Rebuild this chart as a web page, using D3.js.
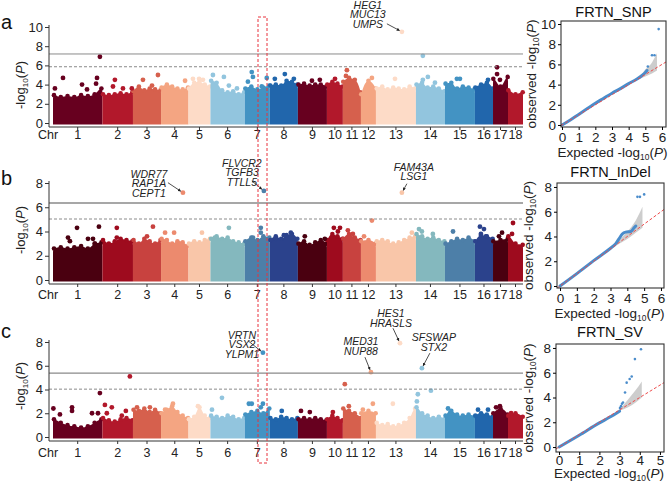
<!DOCTYPE html>
<html>
<head>
<meta charset="utf-8">
<script src="https://cdn.jsdelivr.net/npm/d3@7"></script>
<style>
  body { margin: 0; background: #fff; }
  svg { font-family: Arial, "Liberation Sans", sans-serif; }
</style>
</head>
<body>
<div class="graph_container"></div>
<script>
const w = 669;
const h = 483;

// chromosomes and approximate lengths (Mb)
const chroms = ["1","2","3","4","5","6","7","8","9","10","11","12","13","14","15","16","17","18"];
const chrLen = [257,159,146,143,114,179,130,146,151,83,94,78,208,151,156,94,78,78];

// upper edge of the dense point cloud, per chromosome (-log10 P)
const snpTop = [
  [2.9,2.7,2.8,2.7,2.9,2.8,3.0,3.6],[3.0,2.9,3.0,3.1,3.0,3.2],[3.3,3.8,3.4,3.6,3.5,3.4],
  [3.7,4.0,3.8,3.6,3.5,3.7],[3.6,4.2,4.3,4.0,3.8],[4.4,4.2,3.4,3.2,3.3,3.0,3.2],
  [3.6,3.8,3.5,3.7,3.9],[3.9,4.0,3.9,4.4,4.3,4.0],[4.0,4.1,3.9,4.0,4.0,3.8],
  [4.0,4.3,4.1,3.8],[4.3,4.7,4.5,3.2],[3.0,4.4,3.6],[3.6,3.8,3.5,3.7,3.6,3.5,3.8,3.6],
  [4.0,4.2,3.7,3.8,3.6,3.3],[4.1,4.2,3.6,3.8,3.7,3.5],[3.7,4.0,4.2,3.6],[4.6,3.8,4.8],[3.4,3.0,3.2]
];
const indelTop = [
  [2.6,2.7,2.6,2.7,2.8,2.6,3.0,3.1],[3.3,3.0,3.2,3.4,3.3,3.2],[3.3,3.0,3.4,3.2,3.0,3.3],
  [3.4,3.3,3.0,3.2,3.1,2.8],[3.0,3.2,3.1,3.3,3.4],[3.4,3.6,3.4,3.5,3.2,3.1,3.0],
  [3.2,3.5,3.3,3.6,3.5],[3.3,3.6,3.4,3.7,3.8,3.4],[3.0,3.2,2.9,3.1,3.3,3.0],
  [3.3,3.8,3.6,3.4],[3.4,3.8,3.5,3.3],[3.2,3.3,3.0],[3.2,3.3,3.2,3.0,3.1,3.3,3.5,3.6],
  [3.8,3.6,3.4,3.5,3.3,3.2],[3.0,3.2,3.4,3.3,3.5,3.2],[3.2,3.7,3.6,3.4],[3.2,3.3,3.4],[3.6,3.0,2.9]
];
const svTop = [
  [1.5,1.2,1.0,0.9,0.8,0.9,1.2,1.5],[1.6,1.4,1.3,1.5,1.6,1.4],[2.3,2.2,2.4,2.1,2.3,2.0],
  [2.0,2.3,2.6,2.1,1.8,1.6],[1.5,1.7,2.5,1.8,1.6],[1.8,1.7,1.6,1.8,1.7,1.5,1.6],
  [1.9,2.1,2.2,2.0,2.4],[1.6,1.5,1.7,1.6,1.5,1.6],[1.5,1.6,1.5,1.6,1.5,1.4],
  [1.5,1.8,1.6,1.4],[2.4,2.2,2.0,1.6],[2.0,2.2,2.0],[1.2,1.0,1.1,0.9,1.0,1.2,1.6,2.4],
  [2.5,2.0,1.8,1.6,1.7,1.5],[1.8,2.2,1.9,1.8,1.9,1.7],[1.8,2.0,1.9,1.7],[2.0,2.4,1.9],[1.8,2.0,1.7]
];

// isolated points [chromosome, position Mb, -log10 P]
const snpPeaks = [
  [1,10,3.6],[1,52,4.7],[1,151,4.0],[1,177,3.5],[1,229,4.7],[1,224,4.1],[1,244,6.9],
  [2,65,4.5],[2,55,3.8],[2,107,3.6],[2,153,3.6],[3,52,4.5],[3,130,5.0],[3,99,3.9],
  [4,125,4.4],[5,23,4.6],[5,55,4.6],[5,75,4.5],[6,13,5.0],[6,70,4.8],[6,138,3.6],[6,96,3.9],
  [7,36,5.3],[7,42,4.8],[7,16,4.3],[7,114,4.7],[7,88,3.8],[8,78,5.1],[8,26,4.6],[8,125,4.6],
  [9,73,4.4],[9,114,4.5],[10,42,4.6],[11,21,5.5],[11,16,4.9],[12,57,4.7],[13,99,4.6],
  [14,36,7.0],[14,36,4.5],[14,62,4.8],[14,99,4.2],[15,62,4.6],[15,78,4.6],[16,68,4.5],
  [17,21,5.8],[17,21,5.1],[17,36,4.5]
];
const indelPeaks = [
  [1,125,4.3],[1,78,3.5],[1,88,3.2],[1,182,3.4],[1,208,3.4],[1,239,4.4],[1,218,3.0],
  [2,75,4.3],[2,75,3.5],[3,104,4.4],[3,73,3.6],[4,21,3.9],[4,68,3.9],[4,99,3.0],[5,70,3.9],
  [6,23,3.5],[6,96,4.3],[7,83,4.3],[7,83,3.9],[7,42,3.5],[8,31,3.4],[8,73,3.7],[8,109,3.9],
  [9,36,3.6],[9,140,3.4],[10,36,4.3],[10,68,4.3],[10,57,4.0],[11,26,4.1],[11,52,3.8],
  [12,16,3.6],[12,57,4.9],[13,187,3.9],[14,16,4.2],[14,31,4.0],[14,88,3.8],[15,42,4.0],
  [16,26,4.4],[16,47,4.2],[16,31,3.8],[16,57,3.6],[17,47,3.9],[17,31,3.6],[18,26,4.7],[18,21,3.8]
];
const svPeaks = [
  [1,2,2.4],[1,99,2.5],[1,36,1.9],[1,99,2.2],[1,203,2.0],[1,234,2.0],[1,244,3.7],
  [2,13,2.7],[2,49,2.5],[2,23,2.0],[2,122,2.2],[2,143,5.1],[2,101,1.8],[3,21,2.5],[3,88,2.5],
  [4,21,2.3],[4,62,2.8],[5,49,2.6],[6,8,2.3],[6,60,3.3],[7,21,2.8],[7,36,2.8],[7,94,2.8],
  [7,83,2.5],[8,62,2.2],[9,16,2.2],[9,62,2.1],[10,31,2.1],[11,10,4.45],[11,31,2.6],
  [12,10,2.3],[12,62,2.8],[13,88,2.8],[14,10,3.6],[14,78,3.9],[14,5,3.0],[15,16,2.4],
  [15,26,2.0],[16,16,2.3],[16,68,2.3],[17,16,2.5],[17,36,2.6],[18,16,2.0]
];

// labelled hits and their genes
const snpHits = [[13,135,9.5]];
const snpGenes = [["HEG1","MUC13","UMPS"]];
const indelHits = [[4,114,7.2],[7,99,7.35],[13,135,7.2]];
const indelGenes = [["WDR77","RAP1A","CEPT1"],["FLVCR2","TGFB3","TTLL5"],["FAM43A","LSG1"]];
const svHits = [[7,94,7.1],[13,125,7.9],[12,52,5.46],[14,31,5.8]];
const svGenes = [["VRTN","VSX2","YLPM1"],["HES1","HRASLS"],["MED31","NUP88"],["SFSWAP","STX2"]];

// significance thresholds [solid, dashed]
const snpLines = [7.19, 5.86];
const indelLines = [6.35, 5.03];
const svLines = [5.38, 4.03];

// QQ plots: [expected, observed]
const snpQQ = [[0,0],[0.5,0.5],[1,1.05],[1.5,1.6],[2,2.15],[2.5,2.65],[3,3.15],[3.5,3.6],[4,4.1],[4.5,4.55],[4.8,4.9],[5,5.2],[5.1,5.4]];
const snpQQOut = [[5.15,5.8],[5.4,6.9],[5.55,6.9],[5.8,9.5]];
const snpBand = [[4.55,4.5,4.6],[5,4.8,5.5],[5.4,5.1,6.2],[5.7,5.4,7.1]];
const indelQQ = [[0,0],[1,1],[2,2.05],[3,3.05],[3.3,3.4],[3.5,3.8],[3.7,4.2],[3.9,4.35],[4.2,4.4],[4.4,4.7],[4.5,4.85]];
const indelQQOut = [[4.6,7.2],[4.75,7.2],[5.0,7.4]];
const indelBand = [[3,3,3.1],[3.5,3.4,3.7],[4,3.8,4.4],[4.5,4.3,5.3],[4.9,4.7,6.4]];
const svQQ = [[0,0],[1,0.95],[2,1.95],[2.5,2.4],[3,2.9]];
const svQQOut = [[3.02,3.15],[3.07,3.3],[3.12,3.5],[3.17,3.6],[3.27,4.4],[3.35,5.2],[3.5,5.5],[3.6,5.7],[3.76,7.1],[4.06,7.9]];
const svBand = [[3,2.95,3.05],[3.4,3.2,3.8],[3.8,3.6,4.6],[4.1,4.0,5.3]];

const rdbu = ["#67001f","#b2182b","#d6604d","#f4a582","#fddbc7","#92c5de","#4393c3","#2166ac"];
const darkPal = ["#4a0010","#9e0b1e","#c8423f","#ec8a6e","#f9c6a9","#84b8be","#4d7fa8","#2b428c"];

const svg = d3.select(".graph_container").append("svg").attr("width", w).attr("height", h);

svg.append("defs").append("marker")
  .attr("id", "arr").attr("viewBox", "0 0 6 6").attr("refX", 5).attr("refY", 3)
  .attr("markerWidth", 4).attr("markerHeight", 4).attr("orient", "auto")
  .append("path").attr("d", "M0,0L6,3L0,6Z").attr("fill", "#222");

const x = d3.scaleLinear().domain([0, d3.sum(chrLen)]).range([53, 523]);
const chrStart = chrLen.map((d, i) => d3.sum(chrLen.slice(0, i)));
const pos = (c, p) => x(chrStart[c - 1] + p);

function logLabel(t, prefix, fs) {
  t.append("tspan").text(prefix + "-log");
  t.append("tspan").text("10").attr("font-size", fs * 0.62).attr("dy", fs * 0.2);
  t.append("tspan").text("(").attr("dy", -fs * 0.2);
  t.append("tspan").text("P").attr("font-style", "italic");
  t.append("tspan").text(")");
}

const panels = [
  {letter: "a", letterY: 29, top: snpTop, peaks: snpPeaks, hits: snpHits, genes: snpGenes, lines: snpLines,
   pal: rdbu, yMax: 10, y0: 123, y1: 27, axisTop: 25, axisY: 127, labY: 139, ylabY: 85, solidW: 1,
   offs: [[-34, -23, -15, -8]]},
  {letter: "b", letterY: 185, top: indelTop, peaks: indelPeaks, hits: indelHits, genes: indelGenes, lines: indelLines,
   pal: darkPal, yMax: 8, y0: 280, y1: 183, axisTop: 181, axisY: 284, labY: 299, ylabY: 230, solidW: 1.6,
   offs: [[-34, -15, -15, -10], [-22, -24, -12, -10], [12, -22, 5, -9]]},
  {letter: "c", letterY: 338, top: svTop, peaks: svPeaks, hits: svHits, genes: svGenes, lines: svLines,
   pal: rdbu, yMax: 8, y0: 437, y1: 342, axisTop: 340, axisY: 441, labY: 457, ylabY: 386, solidW: 1.2,
   offs: [[-21, -14, -15, -12], [-9, -26, -7, -15], [-10, -27, -6, -15], [12, -27, 8, -15]]}
];

panels.forEach(p => {
  const y = d3.scaleLinear().domain([0, p.yMax]).range([p.y0, p.y1]);
  const g = svg.append("g");

  // dense cloud
  p.top.forEach((tops, i) => {
    const col = p.pal[i % 8];
    const pts = tops.map((v, j) => [chrStart[i] + chrLen[i] * (0.02 + 0.96 * j / (tops.length - 1)), v]);
    const full = [[chrStart[i], tops[0] * 0.9]].concat(pts, [[chrStart[i] + chrLen[i], tops[tops.length - 1] * 0.9]]);
    g.append("path").datum(full)
      .attr("d", d3.area().x(d => x(d[0])).y0(p.y0 + 1.5).y1(d => y(d[1])).curve(d3.curveMonotoneX))
      .attr("fill", col);
    g.selectAll(null).data(pts).enter().append("circle")
      .attr("cx", d => x(d[0])).attr("cy", d => y(d[1])).attr("r", 2.3).attr("fill", col);
  });

  g.selectAll(null).data(p.peaks.concat(p.hits)).enter().append("circle")
    .attr("cx", d => pos(d[0], d[1])).attr("cy", d => y(d[2])).attr("r", 2.4)
    .attr("fill", d => p.pal[(d[0] - 1) % 8]);

  // thresholds
  g.append("line").attr("x1", 49).attr("x2", 523).attr("y1", y(p.lines[0])).attr("y2", y(p.lines[0]))
    .attr("stroke", "#8a8a8a").attr("stroke-width", p.solidW);
  g.append("line").attr("x1", 49).attr("x2", 523).attr("y1", y(p.lines[1])).attr("y2", y(p.lines[1]))
    .attr("stroke", "#8a8a8a").attr("stroke-width", 1).attr("stroke-dasharray", "3,2");

  // gene labels
  p.hits.forEach((d, k) => {
    const px = pos(d[0], d[1]), py = y(d[2]);
    const o = p.offs[k];
    p.genes[k].forEach((gn, j) => {
      g.append("text").attr("x", px + o[0]).attr("y", py + o[1] + j * 9.6)
        .attr("text-anchor", "middle").attr("font-size", 10.5).attr("font-style", "italic")
        .attr("fill", "#222").text(gn);
    });
    const ax = px + o[2], ay = py + o[3];
    const dx = px - ax, dy = py - ay, L = Math.sqrt(dx * dx + dy * dy);
    g.append("line").attr("x1", ax).attr("y1", ay)
      .attr("x2", px - dx / L * 2.8).attr("y2", py - dy / L * 2.8)
      .attr("stroke", "#222").attr("stroke-width", 0.8).attr("marker-end", "url(#arr)");
  });

  // axes
  const yAxis = d3.axisLeft(y).tickValues(d3.range(0, p.yMax + 1, 2)).tickSize(4).tickPadding(2);
  const ya = g.append("g").attr("transform", "translate(49,0)").call(yAxis);
  ya.select(".domain").remove();
  ya.selectAll("text").attr("font-size", 13).attr("fill", "#222");
  ya.selectAll("line").attr("stroke", "#333");
  g.append("line").attr("x1", 49).attr("x2", 49).attr("y1", p.axisTop).attr("y2", p.axisY).attr("stroke", "#333");
  g.append("line").attr("x1", 49).attr("x2", 523).attr("y1", p.axisY).attr("y2", p.axisY).attr("stroke", "#333");

  const centers = chrLen.map((d, i) => chrStart[i] + d / 2);
  g.selectAll(null).data(centers).enter().append("line")
    .attr("x1", d => x(d)).attr("x2", d => x(d)).attr("y1", p.axisY).attr("y2", p.axisY + 3).attr("stroke", "#333");
  g.selectAll(null).data(centers).enter().append("text")
    .attr("x", d => x(d)).attr("y", p.labY).attr("text-anchor", "middle").attr("font-size", 12.5)
    .attr("fill", "#222").text((d, i) => chroms[i]);
  g.append("text").attr("x", 48).attr("y", p.labY).attr("text-anchor", "middle").attr("font-size", 12.5)
    .attr("fill", "#222").text("Chr");

  const yl = g.append("text").attr("transform", `translate(25,${p.ylabY}) rotate(-90)`)
    .attr("text-anchor", "middle").attr("font-size", 13).attr("fill", "#222");
  logLabel(yl, "", 13);

  svg.append("text").attr("x", 1).attr("y", p.letterY).attr("font-size", 20).attr("fill", "#111").text(p.letter);
});

// highlight box around chr7 region
svg.append("rect").attr("x", 258).attr("y", 17).attr("width", 9).attr("height", 446)
  .attr("fill", "none").attr("stroke", "#e8323c").attr("stroke-width", 1).attr("stroke-dasharray", "3,2");

// QQ plots
const qqs = [
  {title: "FRTN_SNP", line: snpQQ, out: snpQQOut, band: snpBand, bx: [561, 666], by: [127, 21],
   xd: [-0.06, 6.24], yd: [-0.2, 10.3], xt: d3.range(0, 7), yt: [0, 2, 4, 6, 8, 10], titleY: 17, tickY: 142, expY: 157, ylx: 536},
  {title: "FRTN_InDel", line: indelQQ, out: indelQQOut, band: indelBand, bx: [557, 664], by: [288, 183],
   xd: [-0.18, 6.18], yd: [-0.16, 8.32], xt: d3.range(0, 7), yt: [0, 2, 4, 6, 8], titleY: 177, tickY: 303, expY: 318, ylx: 533},
  {title: "FRTN_SV", line: svQQ, out: svQQOut, band: svBand, bx: [556, 664], by: [452, 344],
   xd: [-0.15, 5.2], yd: [-0.4, 8.32], xt: d3.range(0, 6), yt: [0, 2, 4, 6, 8], titleY: 337, tickY: 465, expY: 478, ylx: 533}
];

qqs.forEach((q, qi) => {
  const qx = d3.scaleLinear().domain(q.xd).range(q.bx);
  const qy = d3.scaleLinear().domain(q.yd).range(q.by);
  const g = svg.append("g");
  const cid = "qclip" + qi;
  svg.select("defs").append("clipPath").attr("id", cid).append("rect")
    .attr("x", q.bx[0]).attr("y", q.by[1]).attr("width", q.bx[1] - q.bx[0]).attr("height", q.by[0] - q.by[1]);
  const inner = g.append("g").attr("clip-path", `url(#${cid})`);

  inner.append("path").datum(q.band)
    .attr("d", d3.area().x(d => qx(d[0])).y0(d => qy(d[1])).y1(d => qy(d[2])).curve(d3.curveMonotoneX))
    .attr("fill", "#c4c4c4").attr("opacity", 0.85);
  inner.append("path").datum(q.line)
    .attr("d", d3.line().x(d => qx(d[0])).y(d => qy(d[1])).curve(d3.curveMonotoneX))
    .attr("fill", "none").attr("stroke", "#4a8ccb").attr("stroke-width", 3).attr("stroke-linecap", "round");
  inner.selectAll(null).data(q.out).enter().append("circle")
    .attr("cx", d => qx(d[0])).attr("cy", d => qy(d[1])).attr("r", 1.3).attr("fill", "#4a8ccb");
  inner.append("line").attr("x1", qx(q.xd[0])).attr("y1", qy(q.xd[0]))
    .attr("x2", qx(q.xd[1])).attr("y2", qy(q.xd[1]))
    .attr("stroke", "#ee4b4b").attr("stroke-width", 1).attr("stroke-dasharray", "3,2");

  g.append("rect").attr("x", q.bx[0]).attr("y", q.by[1]).attr("width", q.bx[1] - q.bx[0]).attr("height", q.by[0] - q.by[1])
    .attr("fill", "none").attr("stroke", "#333").attr("stroke-width", 1.1);

  const xa = g.append("g").attr("transform", `translate(0,${q.by[0]})`)
    .call(d3.axisBottom(qx).tickValues(q.xt).tickFormat(d3.format("d")).tickSize(3).tickPadding(1));
  xa.select(".domain").remove();
  xa.selectAll("text").attr("font-size", 13.5).attr("fill", "#222").attr("dy", null).attr("y", q.tickY - q.by[0]);
  const ya = g.append("g").attr("transform", `translate(${q.bx[0]},0)`)
    .call(d3.axisLeft(qy).tickValues(q.yt).tickFormat(d3.format("d")).tickSize(3).tickPadding(2));
  ya.select(".domain").remove();
  ya.selectAll("text").attr("font-size", 13.5).attr("fill", "#222");

  g.append("text").attr("x", (q.bx[0] + q.bx[1]) / 2).attr("y", q.titleY).attr("text-anchor", "middle")
    .attr("font-size", 14.5).attr("fill", "#111").text(q.title);
  const et = g.append("text").attr("x", (q.bx[0] + q.bx[1]) / 2 - 1).attr("y", q.expY).attr("text-anchor", "middle")
    .attr("font-size", 13.5).attr("fill", "#222");
  logLabel(et, "Expected ", 13.5);
  const ot = g.append("text").attr("transform", `translate(${q.ylx},${(q.by[0] + q.by[1]) / 2}) rotate(-90)`)
    .attr("text-anchor", "middle").attr("font-size", 13.5).attr("fill", "#222");
  logLabel(ot, "observed ", 13.5);
});
</script>
</body>
</html>
